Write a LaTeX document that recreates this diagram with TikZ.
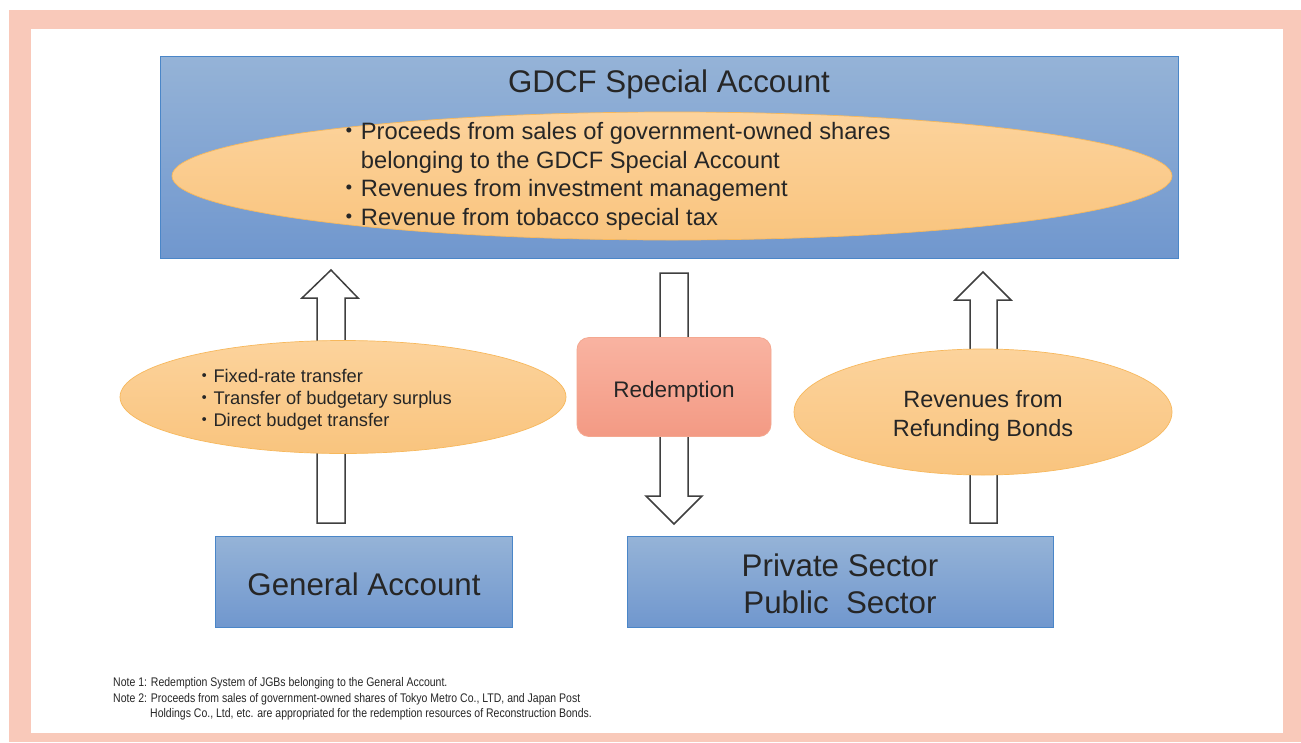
\documentclass[tikz,border=0pt]{standalone}
\usepackage{fontspec}
\setmainfont{Liberation Sans}
\newfontfamily\cjk{Noto Sans CJK JP}
\newfontfamily\narrowfont[FakeStretch=0.84]{Liberation Sans}
\usetikzlibrary{shapes.geometric}
\definecolor{pinkframe}{HTML}{F9C9BA}
\definecolor{boxtop}{HTML}{95B3D7}
\definecolor{boxbot}{HTML}{7097CE}
\definecolor{boxline}{HTML}{4A86C8}
\definecolor{elltop}{HTML}{FCD39C}
\definecolor{ellbot}{HTML}{F9C47E}
\definecolor{elline}{HTML}{F7B85C}
\definecolor{redtop}{HTML}{F9B3A1}
\definecolor{redbot}{HTML}{F39A84}
\definecolor{redline}{HTML}{F4A890}
\definecolor{txt}{HTML}{262626}
\definecolor{arrowline}{HTML}{3F3F3F}
\newcommand{\myfs}[2]{\fontsize{#1}{#2}\selectfont}
\newcommand{\kbul}{{\cjk ・}}
\begin{document}
\begin{tikzpicture}[x=1pt,y=-1pt,
  every node/.style={inner sep=0pt, text=txt},
  bluebox/.style={rectangle, draw=boxline, line width=1pt, top color=boxtop, bottom color=boxbot},
  orangeell/.style={ellipse, draw=elline, line width=0.7pt, top color=elltop, bottom color=ellbot},
  redbox/.style={rectangle, rounded corners=12pt, draw=redline, line width=0.8pt, top color=redtop, bottom color=redbot},
  blockarrow/.style={draw=arrowline, fill=white, line width=1.5pt, line join=miter}]
\useasboundingbox (0,0) rectangle (1301,742);
% frame
\fill[pinkframe] (9,10) rectangle (1301,742);
\fill[white] (31,29) rectangle (1283,733);

% top box
\node[bluebox, minimum width=1018pt, minimum height=202pt] (gdcf) at (669,157) {};
\node[font=\myfs{31.3}{36}] (gdcftitle) at (669,84) {GDCF Special Account};
\node[orangeell, minimum width=1000pt, minimum height=128pt] (topell) at (672,176) {};
\node[anchor=west, align=left, font=\myfs{23.7}{28.7}] (toptext) at (337,176.5)
  {\kbul Proceeds from sales of government-owned shares\\
   \hspace*{23.7pt}belonging to the GDCF Special Account\\
   \kbul Revenues from investment management\\
   \kbul Revenue from tobacco special tax};

% block arrows (drawn before the shapes that cover them)
\draw[blockarrow] (317,523) -- (317,298) -- (302,298) -- (331,270) -- (358,298) -- (345,298) -- (345,523) -- cycle;
\draw[blockarrow] (660,273) -- (660,496) -- (646,496) -- (674,524) -- (702,496) -- (688,496) -- (688,273) -- cycle;
\draw[blockarrow] (970,523) -- (970,300) -- (955,300) -- (983,272) -- (1011,300) -- (997,300) -- (997,523) -- cycle;

% left ellipse
\node[orangeell, minimum width=446pt, minimum height=113pt] (leftell) at (343,397) {};
\node[anchor=west, align=left, font=\myfs{18.3}{22}] (lefttext) at (195,400)
  {\kbul Fixed-rate transfer\\
   \kbul Transfer of budgetary surplus\\
   \kbul Direct budget transfer};

% redemption
\node[redbox, minimum width=194pt, minimum height=99pt] (redbox) at (674,387) {};
\node[font=\myfs{22.5}{27}] (redtext) at (674,392) {Redemption};

% right ellipse
\node[orangeell, minimum width=378pt, minimum height=126pt] (rightell) at (983,412) {};
\node[align=center, font=\myfs{23.5}{29}] (righttext) at (983,416)
  {Revenues from\\Refunding Bonds};

% bottom boxes
\node[bluebox, minimum width=297pt, minimum height=91pt] (general) at (363.5,582) {};
\node[font=\myfs{31.3}{36}] (generaltext) at (364,584) {General Account};
\node[bluebox, minimum width=426pt, minimum height=91pt] (private) at (840,582) {};
\node[align=center, font=\myfs{31.3}{37}] (privatetext) at (840,584)
  {Private Sector\\Public\ \ Sector};

% notes
\node[anchor=west, align=left, font=\narrowfont\myfs{12.5}{15.5}] (notes) at (113,699)
  {Note 1: Redemption System of JGBs belonging to the General Account.\\
   Note 2: Proceeds from sales of government-owned shares of Tokyo Metro Co., LTD, and Japan Post\\
   \hspace*{37pt}Holdings Co., Ltd, etc. are appropriated for the redemption resources of Reconstruction Bonds.};
\end{tikzpicture}
\end{document}
